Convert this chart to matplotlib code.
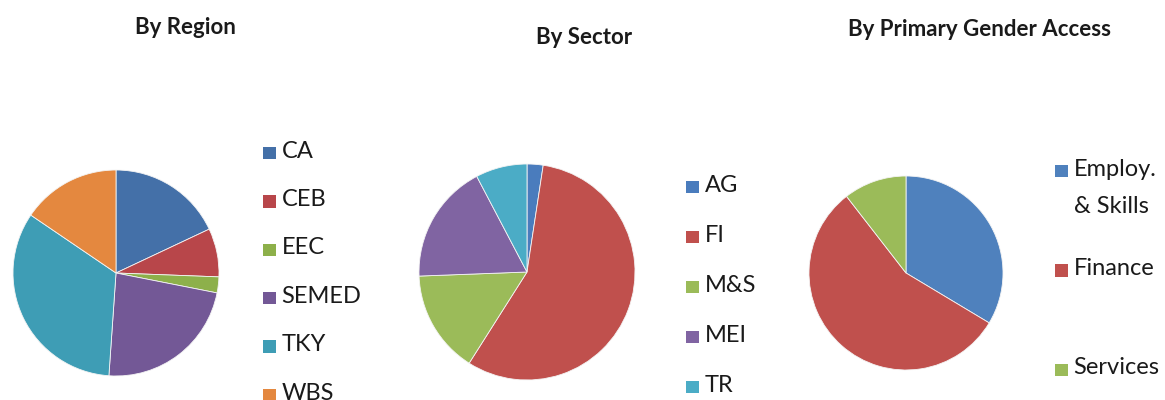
import matplotlib
matplotlib.use("Agg")
import matplotlib.pyplot as plt
from matplotlib.patches import Rectangle

W, H = 1165, 400

# ---- data ----
region_labels = ["CA", "CEB", "EEC", "SEMED", "TKY", "WBS"]
region_values = [18.0, 7.6, 2.5, 23.0, 33.4, 15.5]
region_colors = ["#4470A8", "#B8464A", "#8DB04A", "#735896", "#3E9DB5", "#E4883F"]

sector_labels = ["AG", "FI", "M&S", "MEI", "TR"]
sector_values = [2.4, 56.6, 15.4, 17.9, 7.7]
sector_colors = ["#4A7CBD", "#C0504D", "#9BBB59", "#8064A2", "#4BACC6"]

gender_labels = ["Employ.\n& Skills", "Finance", "Services"]
gender_values = [33.6, 55.9, 10.5]
gender_colors = ["#4F81BD", "#C0504D", "#9BBB59"]

titles = ["By Region", "By Sector", "By Primary Gender Access"]

plt.rcParams['font.family'] = ['Lato', 'DejaVu Sans']

fig = plt.figure(figsize=(W / 100, H / 100), dpi=100)
fig.patch.set_facecolor("white")


def pie_axes(cx, cy, r):
    ax = fig.add_axes([(cx - r) / W, (H - cy - r) / H, 2 * r / W, 2 * r / H])
    return ax


def legend(labels, colors, x_marker, y_start, step, size=12.5, fs=17, gap=6):
    for i, (lab, col) in enumerate(zip(labels, colors)):
        yc = y_start + i * step
        fig.patches.append(Rectangle(((x_marker) / W, (H - yc - size / 2) / H),
                                     size / W, size / H, facecolor=col,
                                     edgecolor="none", transform=fig.transFigure))
        fig.text((x_marker + size + gap) / W, (H - yc + 12.5) / H, lab,
                 ha="left", va="top", fontsize=fs, color="#1a1a1a",
                 linespacing=1.95)


specs = [
    (region_values, region_colors, region_labels, (116, 273, 103)),
    (sector_values, sector_colors, sector_labels, (527, 272, 108)),
    (gender_values, gender_colors, gender_labels, (906, 273, 97)),
]
for vals, cols, labs, (cx, cy, r) in specs:
    ax = pie_axes(cx, cy, r)
    ax.pie(vals, colors=cols, startangle=90, counterclock=False, radius=1,
           wedgeprops=dict(edgecolor="#f4f4f4", linewidth=0.6))
    ax.set_xlim(-1, 1)
    ax.set_ylim(-1, 1)
    ax.set_aspect("equal")
    ax.axis("off")

legend(region_labels, region_colors, 263, 153, 48.4)
legend(sector_labels, sector_colors, 686, 187, 50)
legend(gender_labels, gender_colors, 1055, 171, 99.5)

fig.text(185 / W, 1 - 27 / H, titles[0], ha="center", va="center",
         fontsize=16, fontweight="bold", color="#1a1a1a")
fig.text(584 / W, 1 - 37 / H, titles[1], ha="center", va="center",
         fontsize=16, fontweight="bold", color="#1a1a1a")
fig.text(980 / W, 1 - 30 / H, titles[2], ha="center", va="center",
         fontsize=16, fontweight="bold", color="#1a1a1a")

fig.savefig("out.png", dpi=100, facecolor="white")
